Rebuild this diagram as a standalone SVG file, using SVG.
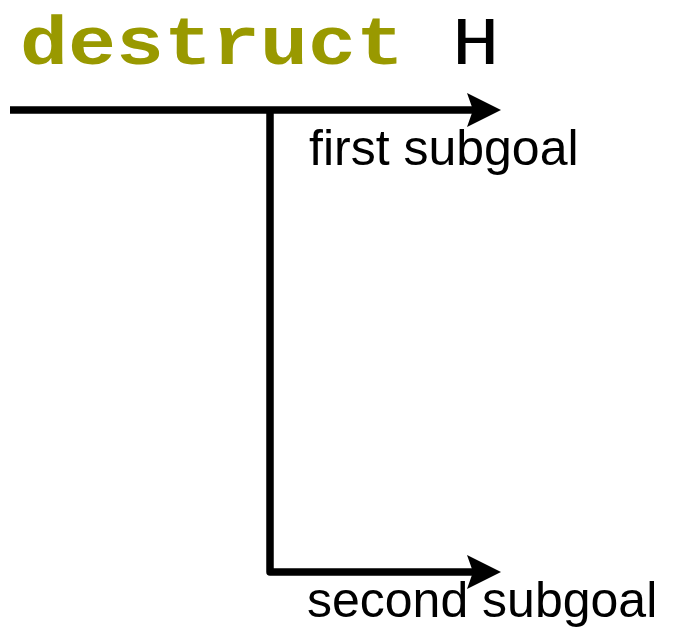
<svg xmlns="http://www.w3.org/2000/svg" width="673" height="644" viewBox="0 0 673 644">
<style>
.code{font-family:"Liberation Mono","Courier New",monospace;font-weight:bold;font-size:68px}
.lbl{font-family:"Liberation Sans",Arial,sans-serif;font-size:50px;fill:#000}
.conn{fill:none;stroke:#000;stroke-width:7.5;stroke-linejoin:round}
</style>
<defs>
<marker id="ah" markerUnits="userSpaceOnUse" markerWidth="40" markerHeight="40" refX="6" refY="17" orient="auto" viewBox="0 0 40 40">
<path d="M0,0 L34,17 L0,34 L6,17 Z" fill="#000"/>
</marker>
</defs>
<g id="title">
<text class="code" transform="translate(20,64) scale(1.176,1)" x="0" y="0"><tspan fill="#999900">destruct</tspan><tspan fill="#000" font-weight="normal"> H</tspan></text>
</g>
<g id="connectors">
<path class="conn" d="M10,110 L473,110" marker-end="url(#ah)"/>
<path class="conn" d="M270,110 L270,572 L473,572" marker-end="url(#ah)"/>
</g>
<g id="first">
<text class="lbl" x="309" y="165">first subgoal</text>
</g>
<g id="second">
<text class="lbl" x="307" y="617">second subgoal</text>
</g>
</svg>
